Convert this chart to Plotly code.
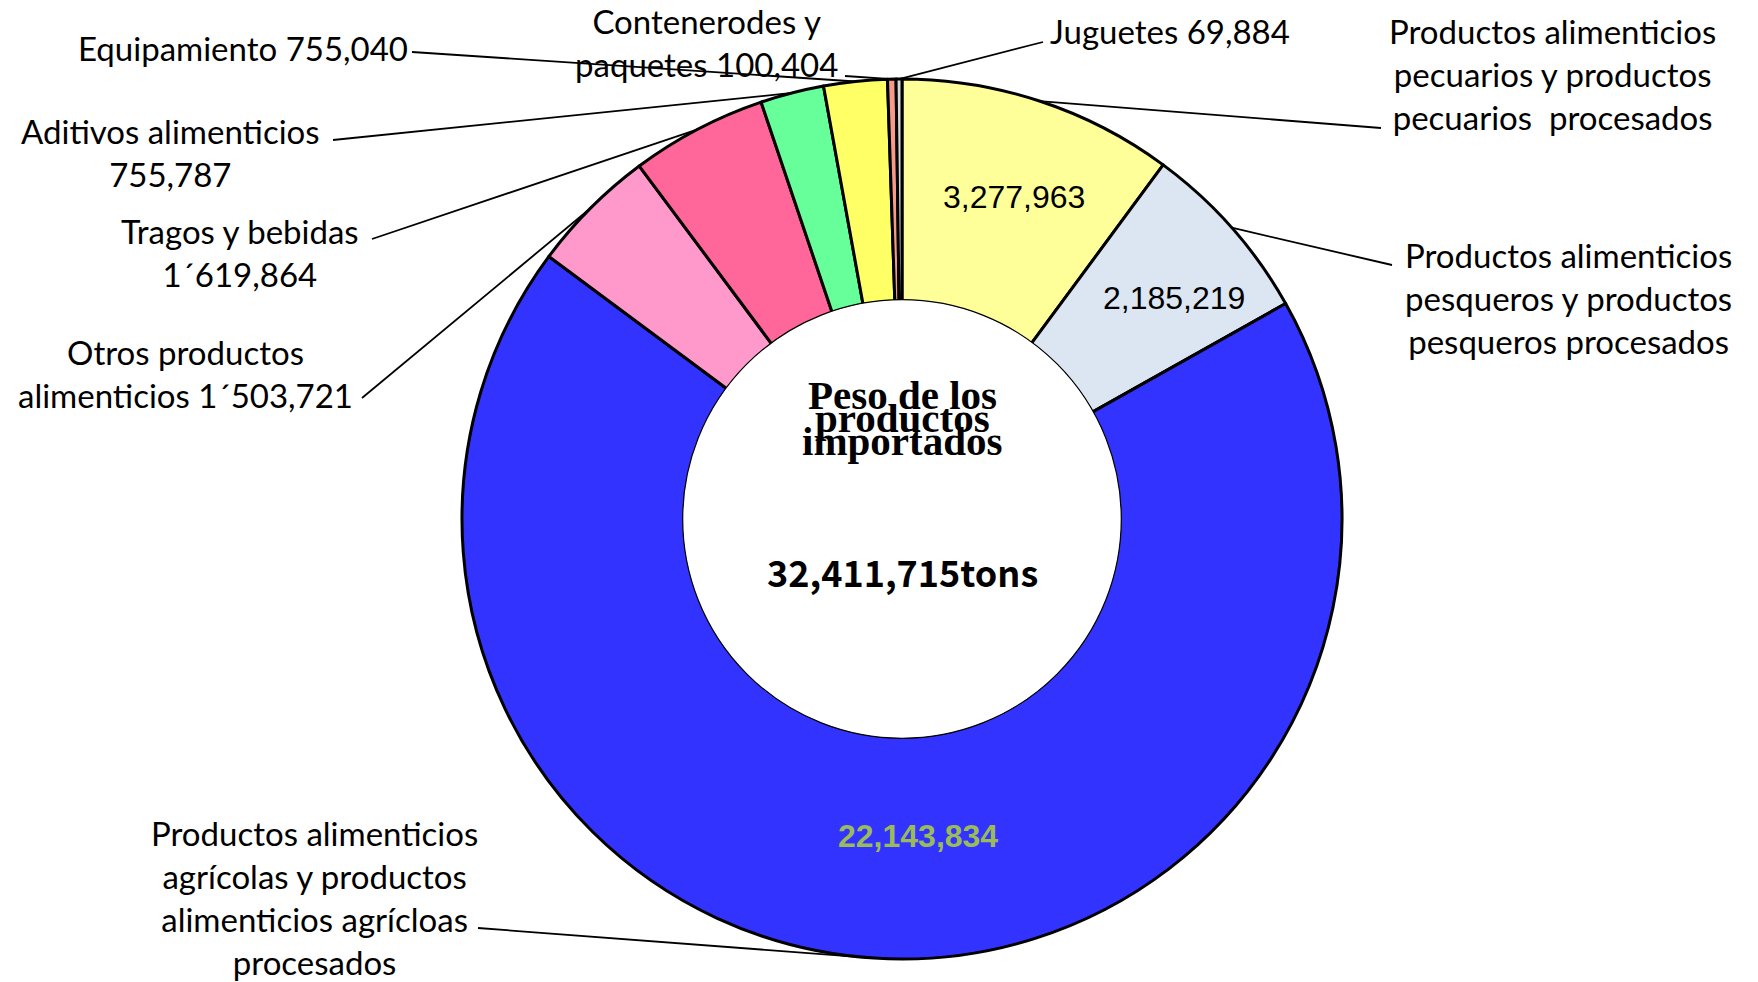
import math
import plotly.graph_objects as go

# ---------------- data ----------------
categories = [
    "Productos alimenticios pecuarios y productos pecuarios procesados",
    "Productos alimenticios pesqueros y productos pesqueros procesados",
    "Productos alimenticios agrícolas y productos alimenticios agrícloas procesados",
    "Otros productos alimenticios",
    "Tragos y bebidas",
    "Aditivos alimenticios",
    "Equipamiento",
    "Contenerodes y paquetes",
    "Juguetes",
]
values = [3277963, 2185219, 22143834, 1503721, 1619864, 755787, 755040, 100404, 69884]
slice_colors = ["#FFFF99", "#DCE6F2", "#3333FF", "#FF99CC", "#FF6699",
                "#66FF99", "#FFFF66", "#F79B86", "#D9D9D9"]
inside_labels = ["3,277,963", "2,185,219", "<b>22,143,834</b>", "", "", "", "", "", ""]
inside_label_colors = ["black", "black", "#9BBB59", "black", "black", "black", "black", "black", "black"]
callout_labels = [
    "Productos alimenticios<br>pecuarios y productos<br>pecuarios  procesados",
    "Productos alimenticios<br>pesqueros y productos<br>pesqueros procesados",
    "Productos alimenticios<br>agrícolas y productos<br>alimenticios agrícloas<br>procesados",
    "Otros productos<br>alimenticios 1´503,721",
    "Tragos y bebidas<br>1´619,864",
    "Aditivos alimenticios<br>755,787",
    "Equipamiento 755,040",
    "Contenerodes y<br>paquetes 100,404",
    "Juguetes 69,884",
]
center_title_lines = ["Peso de los", "productos", "importados"]
center_total = "32,411,715tons"

# ---------------- layout geometry ----------------
W, H = 1758, 982
cx, cy, R = 902, 519, 440
HOLE = 0.495

# pixel nudges for the inside value labels
inside_offsets = [(5, 4), (15, 6), (38, -26), (0, 0), (0, 0), (0, 0), (0, 0), (0, 0), (0, 0)]

# callout text placement (pixels): x, y, xanchor, line start x, line start y
callout_pos = [
    (1552, 74, "center", 1381, 128),
    (1568, 298, "center", 1392, 265),
    (314, 897, "center", 478, 928),
    (185, 373, "center", 362, 398),
    (240, 252, "center", 372, 239),
    (170, 152, "center", 333, 140),
    (410, 48, "right", 412, 52),
    (706, 43, "center", 845, 76),
    (1048, 31, "left", 1043, 42),
]


def px(x):
    return x / W


def py(y):
    return 1 - y / H


fig = go.Figure()
fig.add_trace(go.Pie(
    labels=categories,
    values=values,
    sort=False,
    direction="clockwise",
    rotation=0,
    hole=HOLE,
    textinfo="none",
    hoverinfo="label+value",
    marker=dict(colors=slice_colors, line=dict(color="black", width=3)),
    domain=dict(x=[px(cx - R), px(cx + R)], y=[py(cy + R), py(cy - R)]),
    showlegend=False,
))

total = sum(values)
annotations = []
shapes = []
cum = 0.0
for i, v in enumerate(values):
    mid = (cum + v / 2) / total * 2 * math.pi
    cum += v
    s, c = math.sin(mid), math.cos(mid)
    if inside_labels[i]:
        rr = R * 0.78
        ox, oy = inside_offsets[i]
        annotations.append(dict(
            x=px(cx + rr * s + ox), y=py(cy - rr * c + oy), xref="paper", yref="paper",
            xanchor="center", yanchor="middle",
            text=inside_labels[i], showarrow=False,
            font=dict(family="Liberation Sans, Arial", size=32, color=inside_label_colors[i]),
        ))
    tx, ty, xa, lx, ly = callout_pos[i]
    annotations.append(dict(
        x=px(tx), y=py(ty), xref="paper", yref="paper", text=callout_labels[i],
        showarrow=False, xanchor=xa, yanchor="middle", align="center",
        font=dict(family="Lato", size=33, color="black"),
    ))
    tipx, tipy = cx + R * s, cy - R * c
    shapes.append(dict(type="line", xref="paper", yref="paper",
                       x0=px(lx), y0=py(ly), x1=px(tipx), y1=py(tipy),
                       line=dict(color="black", width=1.8)))

# thin outline of the hole
rh = R * HOLE + 1.5
shapes.append(dict(type="circle", xref="paper", yref="paper",
                   x0=px(cx - rh), x1=px(cx + rh), y0=py(cy + rh), y1=py(cy - rh),
                   fillcolor="white", line=dict(color="black", width=1.2), layer="above"))

for line, yy in zip(center_title_lines, [395, 418, 441]):
    annotations.append(dict(
        x=px(cx), y=py(yy), xref="paper", yref="paper", text="<b>" + line + "</b>",
        xanchor="center", yanchor="middle",
        showarrow=False, font=dict(family="Liberation Serif", size=41, color="black"),
    ))
annotations.append(dict(
    x=px(cx), y=py(571), xref="paper", yref="paper", text="<b>" + center_total + "</b>",
    xanchor="center", yanchor="middle",
    showarrow=False, font=dict(family="Noto Sans CJK JP", size=36, color="black"),
))

fig.update_layout(
    width=W, height=H,
    margin=dict(l=0, r=0, t=0, b=0),
    paper_bgcolor="white", plot_bgcolor="white",
    annotations=annotations, shapes=shapes,
)
fig.write_html("out.html", config={"displayModeBar": False})
